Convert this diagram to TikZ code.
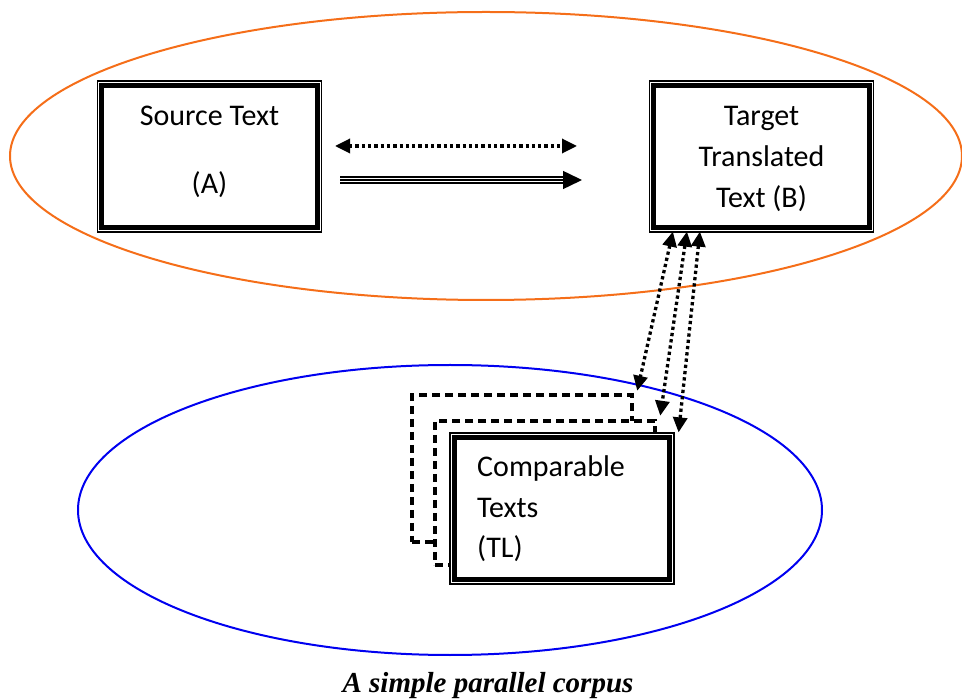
\documentclass[tikz,border=0pt]{standalone}
\usepackage{fontspec}
\setmainfont{Carlito}
\newfontfamily\capfont{Liberation Serif}
\usetikzlibrary{arrows.meta}
\definecolor{ellorange}{RGB}{245,110,25}
\definecolor{ellblue}{RGB}{0,0,240}
\begin{document}
\begin{tikzpicture}[x=1pt,y=-1pt,
  boxframe/.style={draw, line width=1.2pt, fill=white, minimum width=224pt, minimum height=151pt, inner sep=0pt},
  thickin/.style={line width=5pt},
  dashframe/.style={draw, fill=white, line width=4.5pt, dash pattern=on 8pt off 5pt, minimum width=220pt, inner sep=0pt},
  lbl/.style={font=\fontsize{30}{36}\selectfont, anchor=base, inner sep=0pt},
  dotarrow/.style={line width=3.3pt, dash pattern=on 3.3pt off 3pt, {Triangle[length=15pt,width=14pt]}-{Triangle[length=15pt,width=14pt]}}
]
\useasboundingbox (0,0) rectangle (962,700);

% ellipses
\draw[ellorange, line width=2pt] (486,156) ellipse [x radius=476pt, y radius=144pt];
\draw[ellblue, line width=2pt] (450,510) ellipse [x radius=372pt, y radius=145pt];

% source and target boxes
\node[boxframe] (A) at (209.5,156.5) {};
\draw[thickin] ([xshift=5pt,yshift=-5pt]A.north west) rectangle ([xshift=-5pt,yshift=5pt]A.south east);
\node[boxframe] (B) at (761.5,156.5) {};
\draw[thickin] ([xshift=5pt,yshift=-5pt]B.north west) rectangle ([xshift=-5pt,yshift=5pt]B.south east);

\node[lbl] (a1) at (209.5,126) {Source Text};
\node[lbl] (a2) at (209.5,194) {(A)};
\node[lbl] (b1) at (761.5,126) {Target};
\node[lbl] (b2) at (761.5,167) {Translated};
\node[lbl] (b3) at (761.5,208) {Text (B)};

% comparable texts stack
\node[dashframe, minimum height=147pt] (F1) at (522,468.5) {};
\node[dashframe, minimum height=144pt] (F2) at (545,493) {};
\node[boxframe] (C) at (562,508.5) {};
\draw[thickin] ([xshift=5pt,yshift=-5pt]C.north west) rectangle ([xshift=-5pt,yshift=5pt]C.south east);
\node[lbl, anchor=base west] (c1) at (477,477) {Comparable};
\node[lbl, anchor=base west] (c2) at (477,518) {Texts};
\node[lbl, anchor=base west] (c3) at (477,558) {(TL)};

% horizontal arrows
\coordinate (h1) at (335,146);
\coordinate (h2) at (577,146);
\draw[dotarrow] (h1) -- (h2);
\coordinate (t1) at (340,180);
\coordinate (t2) at (582,180);
\coordinate (t2s) at (564,180);
\draw[line width=7.5pt] (t1) -- (t2s);
\draw[white, line width=4.5pt] (t1) -- (t2s);
\draw[line width=1.5pt, -{Triangle[length=19pt,width=18pt]}] (t1) -- (t2);

% vertical dotted arrows
\draw[dotarrow] ([xshift=24pt,yshift=1pt]B.south west) -- ([shift={(3,-2)}]F1.north east);
\draw[dotarrow] ([xshift=38pt,yshift=1pt]B.south west) -- ([shift={(3,-3)}]F2.north east);
\draw[dotarrow] ([xshift=51pt,yshift=1pt]B.south west) -- ([shift={(4,0)}]C.north east);

% caption
\node[font=\capfont\bfseries\itshape\fontsize{29}{34}\selectfont, anchor=base] (cap) at (488,692) {A simple parallel corpus};
\end{tikzpicture}
\end{document}
